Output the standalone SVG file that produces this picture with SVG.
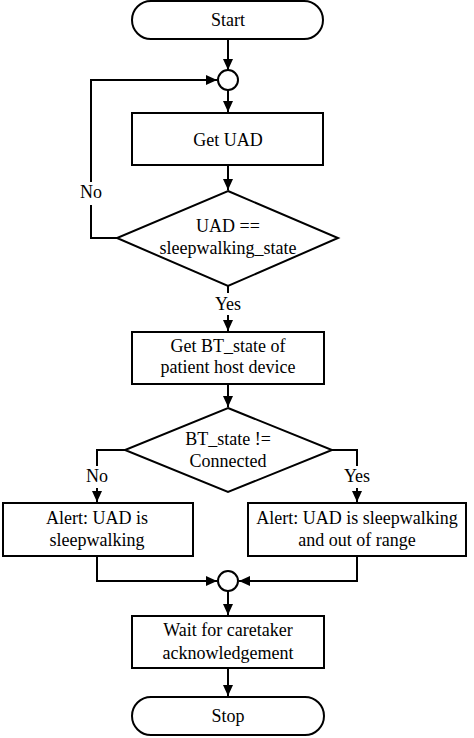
<svg xmlns="http://www.w3.org/2000/svg" width="474" height="738" viewBox="0 0 474 738">
<defs>
<style>
.s{fill:#fff;stroke:#000;stroke-width:2}
.t{font-family:"Liberation Serif","Times New Roman",serif;font-size:18px;fill:#000;text-anchor:middle}
.c{fill:none;stroke:#000;stroke-width:2}
.bg{fill:#fff;stroke:none}
</style>
<marker id="ah" markerUnits="userSpaceOnUse" markerWidth="12" markerHeight="10" refX="11" refY="5" orient="auto">
<path d="M0,0 L11,5 L0,10 z" fill="#000"/>
</marker>
</defs>
<rect width="474" height="738" fill="#fff"/>
<g id="connectors">
<path class="c" d="M228,39 V70" marker-end="url(#ah)"/>
<path class="c" d="M228,90 V112" marker-end="url(#ah)"/>
<path class="c" d="M228,165 V190" marker-end="url(#ah)"/>
<path class="c" d="M117,238 H91 V80 H217" marker-end="url(#ah)"/>
<path class="c" d="M228,286 V331" marker-end="url(#ah)"/>
<path class="c" d="M228,384 V407" marker-end="url(#ah)"/>
<path class="c" d="M125,450 H97 V502" marker-end="url(#ah)"/>
<path class="c" d="M332,450 H357 V502" marker-end="url(#ah)"/>
<path class="c" d="M97,556 V581 H217" marker-end="url(#ah)"/>
<path class="c" d="M357,556 V581 H239" marker-end="url(#ah)"/>
<path class="c" d="M228,591 V615" marker-end="url(#ah)"/>
<path class="c" d="M228,668 V696" marker-end="url(#ah)"/>
<rect class="bg" x="79" y="182" width="24" height="23"/>
<text class="t" x="91" y="198">No</text>
<rect class="bg" x="213" y="293" width="30" height="22"/>
<text class="t" x="228" y="310">Yes</text>
<rect class="bg" x="85" y="466" width="24" height="22"/>
<text class="t" x="97" y="482">No</text>
<rect class="bg" x="342" y="466" width="30" height="22"/>
<text class="t" x="357" y="482">Yes</text>
</g>
<g id="start">
<rect class="s" x="132" y="1" width="191" height="38" rx="19"/>
<text class="t" x="228" y="26">Start</text>
</g>
<g id="merge1">
<circle class="s" cx="228" cy="80" r="10"/>
</g>
<g id="get-uad">
<rect class="s" x="132" y="113" width="191" height="52"/>
<text class="t" x="228" y="146">Get UAD</text>
</g>
<g id="decision-uad">
<polygon class="s" points="228,191 338,238 228,286 117,238"/>
<text class="t" x="228" y="232">UAD ==</text>
<text class="t" x="228" y="254">sleepwalking_state</text>
</g>
<g id="get-bt">
<rect class="s" x="132" y="332" width="192" height="52"/>
<text class="t" x="228" y="352">Get BT_state of</text>
<text class="t" x="228" y="373">patient host device</text>
</g>
<g id="decision-bt">
<polygon class="s" points="228,408 332,450 228,492 125,450"/>
<text class="t" x="228" y="445">BT_state !=</text>
<text class="t" x="228" y="467">Connected</text>
</g>
<g id="alert-left">
<rect class="s" x="3" y="503" width="190" height="53"/>
<text class="t" x="97" y="524">Alert: UAD is</text>
<text class="t" x="97" y="546">sleepwalking</text>
</g>
<g id="alert-right">
<rect class="s" x="248" y="503" width="218" height="53"/>
<text class="t" x="357" y="524">Alert: UAD is sleepwalking</text>
<text class="t" x="357" y="546">and out of range</text>
</g>
<g id="merge2">
<circle class="s" cx="228" cy="581" r="10"/>
</g>
<g id="wait">
<rect class="s" x="132" y="616" width="192" height="52"/>
<text class="t" x="228" y="636">Wait for caretaker</text>
<text class="t" x="228" y="659">acknowledgement</text>
</g>
<g id="stop">
<rect class="s" x="132" y="697" width="192" height="38" rx="19"/>
<text class="t" x="228" y="722">Stop</text>
</g>
</svg>
